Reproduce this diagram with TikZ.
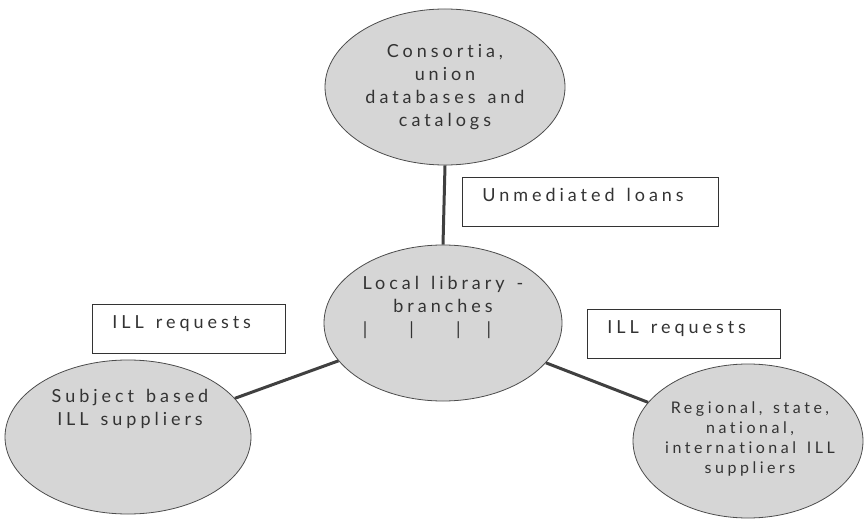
\documentclass[tikz,border=0pt]{standalone}
\usepackage{fontspec}
\setmainfont{Lato}[LetterSpace=22, WordSpace=1.4, Ligatures=NoCommon]
\usetikzlibrary{shapes.geometric}
\tikzset{
  treenode/.style = {align=center, inner sep=0pt, text centered,
    font=\fontsize{18}{23}\selectfont, text=black!80},
  blob/.style = {ellipse, draw=black!70, fill=black!16, line width=0.8pt},% circle with stipple
  note/.style = {treenode, rectangle, draw=black!80, fill=white, line width=0.9pt,
    anchor=north west, inner xsep=20pt, inner ysep=4pt,
    text height=20pt, text depth=21pt},% labelled box
  link/.style = {draw=black!75, line width=3pt}
}

\begin{document}
\begin{tikzpicture}[x=1pt, y=-1pt]
  \useasboundingbox (0,0) rectangle (864,521);
  % circles
  \node [blob, minimum width=240pt, minimum height=156pt] (cons) at (445,87) {};
  \node [blob, minimum width=238pt, minimum height=156pt] (local) at (443,323) {};
  \node [blob, minimum width=246pt, minimum height=154pt] (subj) at (128,437) {};
  \node [blob, minimum width=230pt, minimum height=154pt] (regio) at (748,441) {};
  % connectors
  \draw [link] (cons.south) -- (local.north);
  \draw [link] (local) -- (subj);
  \draw [link] (local) -- (regio);
  % texts in the circles
  \node [treenode] (cons_t) at (445,87) {Consortia,\\union\\databases and\\catalogs};
  \node [treenode] (local_t) at (443,307) {Local library -\\branches\\
    |\hspace{42pt}|\hspace{42pt}|\hspace{26pt}|\hspace{32pt}\mbox{}};
  \node [treenode] (subj_t) at (130,409) {Subject based\\ILL suppliers};
  \node [treenode, font=\fontsize{16}{20}\selectfont] (regio_t) at (750,439)
    {Regional, state,\\national,\\international ILL\\suppliers};
  % boxes
  \node [note] (loans) at (462,177) {\makebox[216pt][l]{Unmediated loans}};
  \node [note] (req_l) at (92,304) {\makebox[153pt][l]{ILL requests}};
  \node [note] (req_r) at (587,309) {\makebox[153pt][l]{ILL requests}};
\end{tikzpicture}
\end{document}
